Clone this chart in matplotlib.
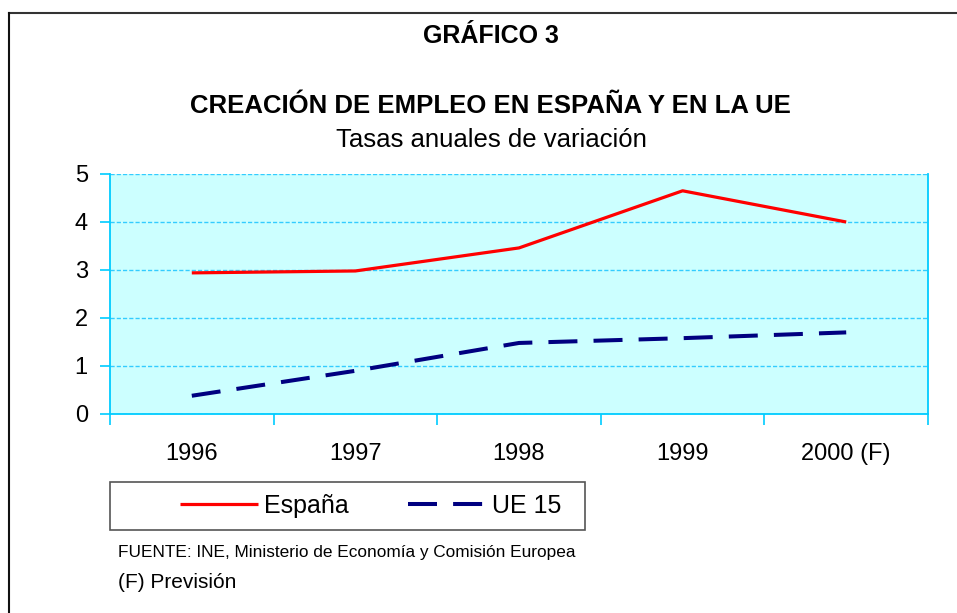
import numpy as np
import matplotlib.pyplot as plt
from matplotlib import font_manager
from matplotlib.lines import Line2D
from matplotlib.patches import Rectangle

plt.rcParams['font.family'] = ['Liberation Sans', 'DejaVu Sans']

# data
years = ['1996', '1997', '1998', '1999', '2000 (F)']
espana = [2.94, 2.98, 3.46, 4.65, 4.0]
ue15 = [0.38, 0.90, 1.48, 1.58, 1.70]
yticks = [0, 1, 2, 3, 4, 5]

W, H = 957, 613
fig = plt.figure(figsize=(W / 100, H / 100), dpi=100)

# outer frame (top and left only)
fig.add_artist(Line2D([9 / W, 1], [1 - 13 / H, 1 - 13 / H], color='#333333', lw=1.5))
fig.add_artist(Line2D([9 / W, 9 / W], [1 - 13 / H, 0], color='#111111', lw=1.5))

fig.text(491 / W, 1 - 36 / H, 'GRÁFICO 3', ha='center', va='center',
         fontsize=18, fontweight='bold')
fig.text(490 / W, 1 - 106 / H, 'CREACIÓN DE EMPLEO EN ESPAÑA Y EN LA UE',
         ha='center', va='center', fontsize=18.5, fontweight='bold')
fig.text(491 / W, 1 - 140 / H, 'Tasas anuales de variación', ha='center',
         va='center', fontsize=18.5)

ax = fig.add_axes([110 / W, 1 - 414 / H, 818 / W, 240 / H])
ax.set_facecolor('#ccffff')
cyan = '#00ccff'

x = np.arange(len(years))
ax.plot(x, espana, color='#ff0000', lw=2.3, label='España', solid_capstyle='butt')
ax.plot(x, ue15, color='#000080', lw=2.9, dashes=(7.2, 4.0), label='UE 15',
        dash_capstyle='butt')

ax.set_xlim(-0.5, len(years) - 0.5)
ax.set_ylim(0, 5)
ax.set_yticks(yticks)
ax.set_yticklabels([str(v) for v in yticks])
ax.set_xticks(x)
ax.set_xticklabels(years)
ax.set_xticks(np.arange(len(years) + 1) - 0.5, minor=True)

ax.tick_params(axis='x', which='major', length=0, pad=21, labelsize=17)
ax.tick_params(axis='x', which='minor', length=8, color=cyan, width=1.2)
ax.tick_params(axis='y', length=7, color=cyan, width=1.2, pad=9, labelsize=17)

ax.grid(axis='y', color='#33ccff', linestyle=(0, (3, 1.5)), lw=1)
ax.set_axisbelow(True)
for side in ['left', 'right', 'bottom']:
    ax.spines[side].set_color(cyan)
    ax.spines[side].set_linewidth(1.3)
ax.spines['top'].set_visible(False)

# legend box
fig.add_artist(Rectangle((110 / W, 1 - 530 / H), 475 / W, 48 / H, transform=fig.transFigure,
                         fill=False, edgecolor='#555555', lw=1.2))
fig.legend(loc='center left', bbox_to_anchor=(180 / W, 1 - 506 / H), ncol=2,
           fontsize=18, frameon=False, handlelength=3.1, handletextpad=0.24,
           columnspacing=2.4, borderpad=0, borderaxespad=0)

# source notes: narrow face if installed
try:
    font_manager.findfont('Liberation Sans Narrow', fallback_to_default=False)
    note_family, note_size = 'Liberation Sans Narrow', 15
except Exception:
    note_family, note_size = 'Liberation Sans', 12.4
fig.text(118 / W, 1 - 552 / H, 'FUENTE: INE, Ministerio de Economía y Comisión Europea',
         ha='left', va='center', fontsize=note_size, family=note_family)
fig.text(118 / W, 1 - 582 / H, '(F) Previsión', ha='left', va='center', fontsize=15)

fig.savefig('out.png', dpi=100)
